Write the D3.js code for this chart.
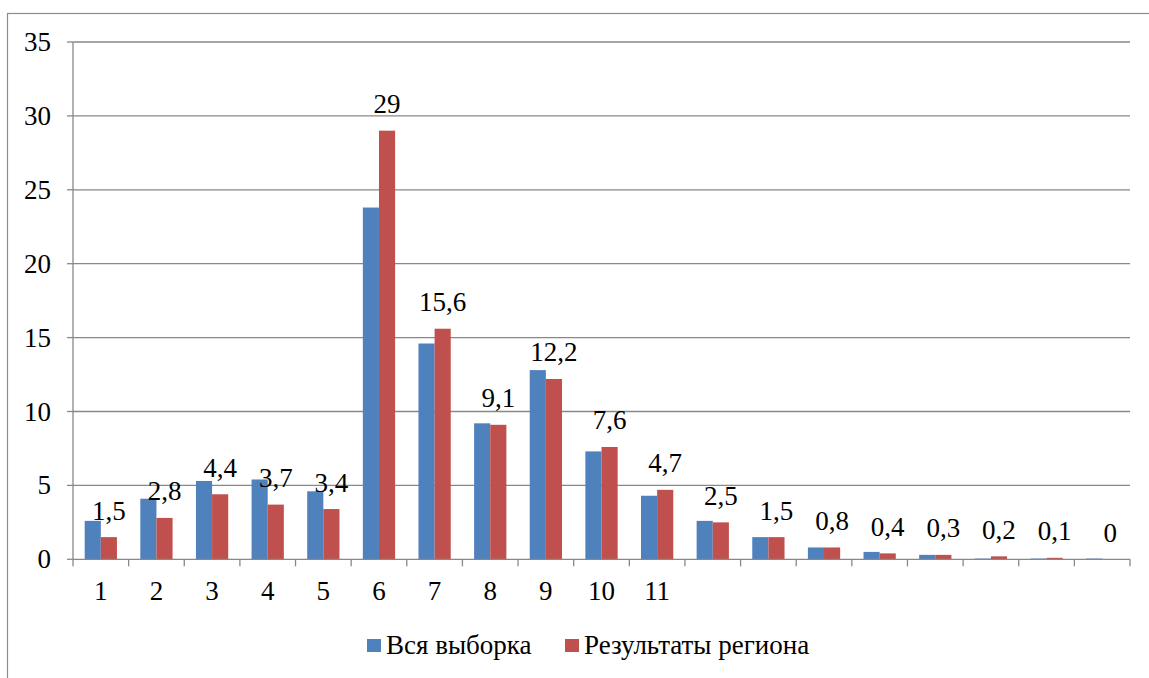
<!DOCTYPE html>
<html>
<head>
<meta charset="utf-8">
<script src="https://cdn.jsdelivr.net/npm/d3@7"></script>
</head>
<body style="margin:0">
<div id="chart"></div>
<script>
// categories (only the first 11 carry a visible label)
const categories = d3.range(1, 20).map(String);
const tickLabels = ["1", "2", "3", "4", "5", "6", "7", "8", "9", "10", "11", "", "", "", "", "", "", "", ""];
const seriesNames = ["Вся выборка", "Результаты региона"];
// blue series
const allSample = [2.6, 4.1, 5.3, 5.4, 4.6, 23.8, 14.6, 9.2, 12.8, 7.3, 4.3, 2.6, 1.5, 0.8, 0.5, 0.3, 0.05, 0.05, 0.05];
// red series, from the data labels
const region = [1.5, 2.8, 4.4, 3.7, 3.4, 29, 15.6, 9.1, 12.2, 7.6, 4.7, 2.5, 1.5, 0.8, 0.4, 0.3, 0.2, 0.1, 0];
const yTicks = [0, 5, 10, 15, 20, 25, 30, 35];
const colors = ["#4F81BD", "#C0504D"];

const FONT = "Liberation Serif";
const FS = "27px";

const width = 1149, height = 678;
const margin = { left: 73, right: 19, top: 42, bottom: 118.7 };
const innerWidth = width - margin.left - margin.right;
const innerHeight = height - margin.top - margin.bottom;

const svg = d3.select("#chart").append("svg")
  .attr("width", width)
  .attr("height", height);

// outer chart border (runs off the right and bottom edges)
svg.append("rect")
  .attr("x", 7.5).attr("y", 13.5)
  .attr("width", 1300).attr("height", 800)
  .attr("fill", "none")
  .attr("stroke", "#8c8c8c")
  .attr("stroke-width", 1.2);

const g = svg.append("g").attr("transform", `translate(${margin.left}, ${margin.top})`);

const xScale = d3.scaleBand().domain(categories).range([0, innerWidth]).paddingInner(0).paddingOuter(0);
const yScale = d3.scaleLinear().domain([0, 35]).range([innerHeight, 0]);
const barW = xScale.bandwidth() * 0.29;
const groupOff = (xScale.bandwidth() - 2 * barW) / 2;

// gridlines
g.selectAll("line.grid")
  .data(yTicks.filter(d => d > 0))
  .join("line")
  .attr("class", "grid")
  .attr("x1", 0).attr("x2", innerWidth)
  .attr("y1", d => yScale(d)).attr("y2", d => yScale(d))
  .attr("stroke", "#888").attr("stroke-width", 1.3);

// bars
const data = categories.map((c, i) => ({ c, vals: [allSample[i], region[i]] }));
const groups = g.selectAll("g.grp").data(data).join("g")
  .attr("transform", d => `translate(${xScale(d.c) + groupOff}, 0)`);
groups.selectAll("rect")
  .data(d => d.vals)
  .join("rect")
  .attr("x", (d, i) => i * barW)
  .attr("y", d => yScale(d))
  .attr("width", barW)
  .attr("height", d => innerHeight - yScale(d))
  .attr("fill", (d, i) => colors[i]);

// data labels on the red series
g.selectAll("text.lbl")
  .data(data)
  .join("text")
  .attr("class", "lbl")
  .attr("x", d => xScale(d.c) + groupOff + barW * 1.5)
  .attr("y", d => yScale(d.vals[1]) - 17.5)
  .attr("text-anchor", "middle")
  .attr("font-family", FONT)
  .attr("font-size", FS)
  .attr("fill", "#000")
  .text(d => String(d.vals[1]).replace(".", ","));

// y axis (labels drawn by hand so the font is not inherited from the axis group)
const yG = g.append("g");
yG.append("line")
  .attr("y1", 0).attr("y2", innerHeight)
  .attr("stroke", "#888").attr("stroke-width", 1.3);
yG.selectAll("line.ytk")
  .data(yTicks)
  .join("line")
  .attr("class", "ytk")
  .attr("x1", -6).attr("x2", 0)
  .attr("y1", d => yScale(d)).attr("y2", d => yScale(d))
  .attr("stroke", "#888").attr("stroke-width", 1.3);
yG.selectAll("text.yl")
  .data(yTicks)
  .join("text")
  .attr("class", "yl")
  .attr("x", -22)
  .attr("y", d => yScale(d) + 9)
  .attr("text-anchor", "end")
  .attr("font-family", FONT)
  .attr("font-size", FS)
  .attr("fill", "#000")
  .text(d => d);

// x axis: ticks at band boundaries, labels at band centres
const xG = g.append("g").attr("transform", `translate(0, ${innerHeight})`);
xG.append("line")
  .attr("x1", 0).attr("x2", innerWidth)
  .attr("stroke", "#888").attr("stroke-width", 1.3);
xG.selectAll("line.tk")
  .data(categories.concat(["end"]))
  .join("line")
  .attr("class", "tk")
  .attr("x1", (d, i) => i * xScale.step()).attr("x2", (d, i) => i * xScale.step())
  .attr("y1", 0).attr("y2", 7)
  .attr("stroke", "#888").attr("stroke-width", 1.3);
xG.selectAll("text.xl")
  .data(categories.filter((d, i) => tickLabels[i] !== ""))
  .join("text")
  .attr("class", "xl")
  .attr("x", d => xScale(d) + xScale.bandwidth() / 2)
  .attr("y", 40.5)
  .attr("text-anchor", "middle")
  .attr("font-family", FONT)
  .attr("font-size", FS)
  .attr("fill", "#000")
  .text(d => tickLabels[categories.indexOf(d)]);

// legend
const legendX = [367, 565];
const legend = svg.append("g");
seriesNames.forEach((name, i) => {
  legend.append("rect")
    .attr("x", legendX[i]).attr("y", 639)
    .attr("width", 14).attr("height", 13)
    .attr("fill", colors[i]);
  legend.append("text")
    .attr("x", legendX[i] + 19).attr("y", 654)
    .attr("font-family", FONT)
    .attr("font-size", FS)
    .attr("fill", "#000")
    .text(name);
});
</script>
</body>
</html>
